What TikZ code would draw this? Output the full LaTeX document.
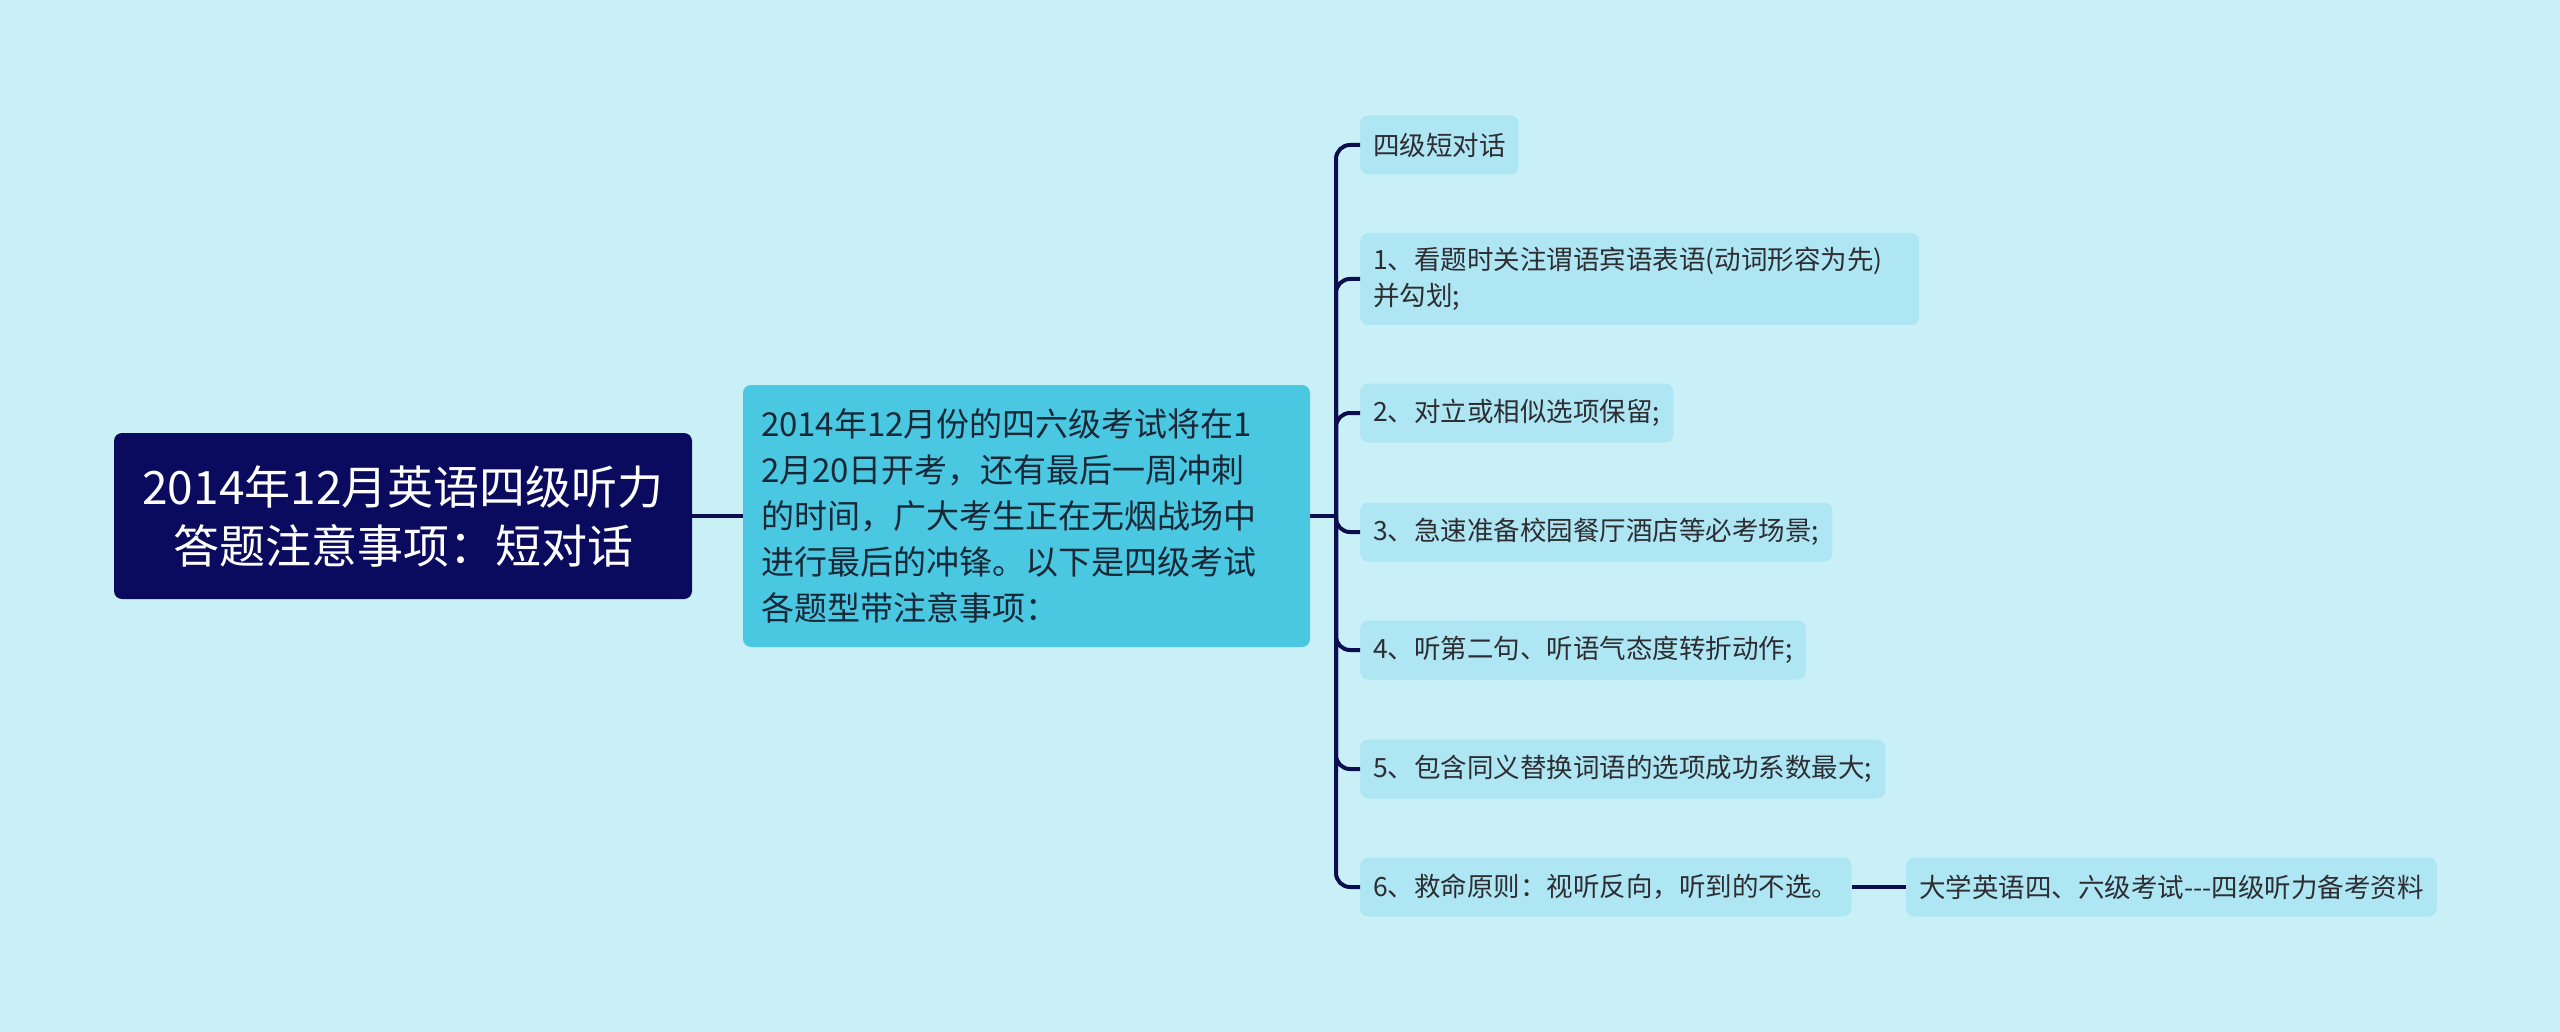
\documentclass[tikz,border=0pt]{standalone}
\usepackage{fontspec}
\setmainfont{Noto Sans CJK SC}
\definecolor{bgc}{RGB}{201,240,247}
\definecolor{rootc}{RGB}{10,10,94}
\definecolor{midc}{RGB}{75,200,225}
\definecolor{leafc}{RGB}{174,230,243}
\definecolor{linec}{RGB}{12,14,80}
\definecolor{midtext}{RGB}{25,40,55}
\definecolor{leaftext}{RGB}{45,45,50}
\tikzset{
  rootbox/.style={rectangle, rounded corners=8pt, fill=rootc, text=white,
    font=\fontsize{46}{59}\selectfont, align=center, minimum width=578pt,
    minimum height=166pt, inner sep=0pt},
  midbox/.style={rectangle, rounded corners=8pt, fill=midc, text=midtext,
    font=\fontsize{33}{46}\selectfont, align=left, text width=531pt,
    inner xsep=18pt, inner ysep=0pt, minimum height=262pt},
  itembox/.style={rectangle, rounded corners=8pt, fill=leafc, text=leaftext,
    font=\fontsize{26.5}{36}\selectfont, align=left, inner xsep=13pt,
    inner ysep=0pt, minimum height=59pt, anchor=west},
  conn/.style={draw=linec, line width=4pt},
}
\begin{document}
\begin{tikzpicture}[x=1pt,y=-1pt]
\fill[bgc] (0,0) rectangle (2560,1032);
\useasboundingbox (0,0) rectangle (2560,1032);

\node[rootbox] (root) at (403,516) {2014年12月英语四级听力\\答题注意事项：短对话};
\node[midbox] (mid) at (1026.5,516) {2014年12月份的四六级考试将在1\\2月20日开考，还有最后一周冲刺\\的时间，广大考生正在无烟战场中\\进行最后的冲锋。以下是四级考试\\各题型带注意事项：};

\node[itembox] (c0) at (1360,145) {四级短对话};
\node[itembox, text width=533pt, minimum height=92pt] (c1) at (1360,279) {1、看题时关注谓语宾语表语(动词形容为先)\\并勾划;};
\node[itembox] (c2) at (1360,413) {2、对立或相似选项保留;};
\node[itembox] (c3) at (1360,532) {3、急速准备校园餐厅酒店等必考场景;};
\node[itembox] (c4) at (1360,650) {4、听第二句、听语气态度转折动作;};
\node[itembox] (c5) at (1360,769) {5、包含同义替换词语的选项成功系数最大;};
\node[itembox] (c6) at (1360,887) {6、救命原则：视听反向，听到的不选。};
\node[itembox] (leaf) at (1906,887) {大学英语四、六级考试-{}-{}-四级听力备考资料};

\coordinate (tr) at (1336,516);
\draw[conn] (root.east) -- (mid.west);
\draw[conn] (mid.east) -- (tr);
\foreach \c in {c0,c1,c2,c3,c4,c5,c6}{
  \draw[conn, rounded corners=14pt] (tr) |- (\c.west);
}
\draw[conn] (c6.east) -- (leaf.west);
\end{tikzpicture}
\end{document}
